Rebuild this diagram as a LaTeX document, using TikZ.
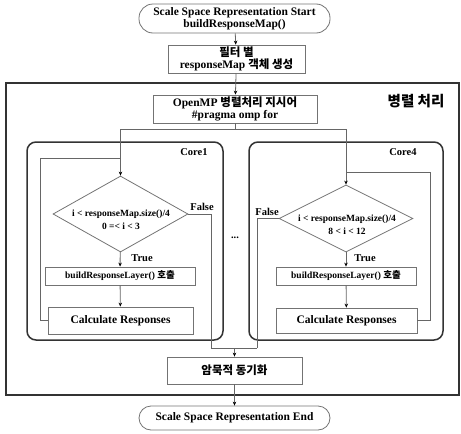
\documentclass[tikz,border=0pt]{standalone}
\usepackage{fontspec}
\setmainfont{Liberation Serif}
\newfontfamily\kr{Noto Sans CJK KR}
\usetikzlibrary{shapes.geometric,arrows.meta}
\begin{document}
\begin{tikzpicture}[x=1pt,y=-1pt,
  txt/.style={font=\fontsize{11.5}{12.5}\selectfont\bfseries, align=center, text=black},
  small/.style={font=\fontsize{9.5}{13}\selectfont\bfseries},
  box/.style={draw=black!55, line width=0.8pt, rectangle, inner sep=0pt, txt},
  term/.style={box, rounded corners=12pt},
  corebox/.style={draw=black!80, line width=1.5pt, rounded corners=9pt},
  dia/.style={draw=black!55, line width=0.8pt, diamond, inner sep=0pt},
  conn/.style={draw=black!60, line width=0.8pt},
  arr/.style={conn, -{Stealth[length=4pt,width=3.5pt,black]}},
  lab/.style={txt, inner sep=0pt},
  tag/.style={lab, font=\fontsize{10.5}{12}\selectfont\bfseries}
]
\useasboundingbox (0,0) rectangle (461,434);
% outer parallel box
\draw[draw=black!80, line width=1.5pt] (6,83) rectangle (459,395);
\node[lab, font=\fontsize{14.5}{16}\selectfont\kr\bfseries] (par) at (416,101) {병렬 처리};
% core boxes
\draw[corebox] (27,142) rectangle (223,340);
\draw[corebox] (249,142) rectangle (443,340);
\node[tag] (core1) at (194,152) {Core1};
\node[tag] (core4) at (403,152) {Core4};
% main nodes
\node[term, minimum width=191pt, minimum height=29pt, rounded corners=14pt] (start) at (234.5,18.5) {Scale Space Representation Start\\buildResponseMap()};
\node[box, minimum width=137pt, minimum height=28pt] (filt) at (236.5,59) {{\kr 필터 별}\\responseMap {\kr 객체 생성}};
\node[box, minimum width=164pt, minimum height=28pt] (omp) at (235,109) {OpenMP {\kr 병렬처리 지시어}\\\#pragma omp for};
% core1
\node[dia, minimum width=135pt, minimum height=76pt] (d1) at (120.5,214) {};
\node[lab, small] (d1t) at (121,220) {i < responseMap.size()/4\\0 =< i < 3};
\node[box, small, minimum width=150pt, minimum height=18pt] (b1) at (120,276) {buildResponseLayer() {\kr 호출}};
\node[box, minimum width=145pt, minimum height=27pt] (c1) at (120.5,320.5) {Calculate Responses};
% core4
\node[dia, minimum width=134pt, minimum height=67pt] (d4) at (346,218.5) {};
\node[lab, small] (d4t) at (347,225) {i < responseMap.size()/4\\8 < i < 12};
\node[box, small, minimum width=140pt, minimum height=18pt] (b4) at (346,276) {buildResponseLayer() {\kr 호출}};
\node[box, minimum width=141pt, minimum height=25pt] (c4) at (346.5,320.5) {Calculate Responses};
% labels
\node[tag] (f1) at (202,207) {False};
\node[tag] (f4) at (267,212) {False};
\node[tag] (t1) at (142,258) {True};
\node[tag] (t4) at (365,258) {True};
\node[tag] (dots) at (235,238) {...};
% bottom
\node[box, minimum width=135pt, minimum height=27pt] (sync) at (234.5,370.5) {\kr 암묵적 동기화};
\node[term, minimum width=191pt, minimum height=24pt] (end) at (234.5,418) {Scale Space Representation End};
% connectors
\draw[arr] (start) -- (filt);
\draw[arr] (filt) -- (omp);
\coordinate (sp) at (235,129);
\draw[conn] (omp.south) -- (sp);
\draw[arr] (sp) -| (d1.north);
\draw[arr] (sp) -| (d4.north);
\draw[arr] (d1) -- (b1);
\draw[arr] (b1) -- (c1);
\draw[arr] (d4) -- (b4);
\draw[arr] (b4) -- (c4);
\coordinate (l1) at (40,158);
\draw[conn] (c1.west) -| (l1) -- (d1.north |- l1);
\coordinate (l4) at (430,172);
\draw[conn] (c4.east) -| (l4) -- (d4.north |- l4);
\coordinate (m1) at (211,348);
\coordinate (m4) at (257,348);
\coordinate (mm) at (234.5,348);
\draw[conn] (d1.east) -| (m1) -- (m4);
\draw[conn] (d4.west) -| (m4);
\draw[arr] (mm) -- (sync);
\draw[arr] (sync) -- (end);
\end{tikzpicture}
\end{document}
